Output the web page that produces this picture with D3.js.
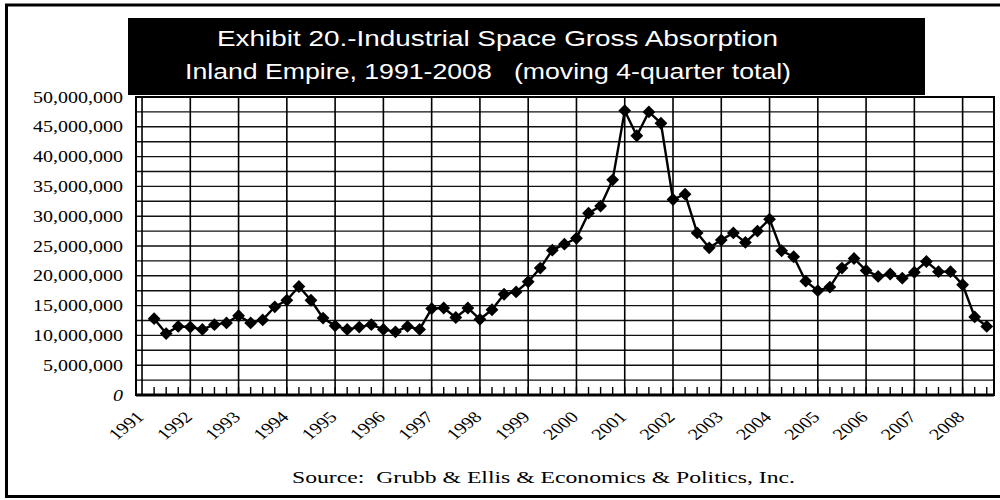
<!DOCTYPE html>
<html>
<head>
<meta charset="utf-8">
<script src="https://cdn.jsdelivr.net/npm/d3@7/dist/d3.min.js"></script>
<style>
  html, body { margin: 0; padding: 0; background: #fff; }
  svg { display: block; }
  .serif { font-family: "Liberation Serif", "Times New Roman", serif; fill: #000; }
  .sans  { font-family: "Liberation Sans", Arial, sans-serif; }
</style>
</head>
<body>
<svg id="chart" width="1000" height="500"></svg>
<script>
// Calendar years labelled on the category axis (four quarters per year)
const years = ["1991","1992","1993","1994","1995","1996","1997","1998","1999",
               "2000","2001","2002","2003","2004","2005","2006","2007","2008"];

// Gross absorption, square feet, moving 4-quarter total (one value per quarter)
const absorption = [
  12.8e6, 10.3e6, 11.5e6, 11.4e6, 11.0e6, 11.8e6, 12.1e6, 13.3e6, 12.1e6, 12.6e6,
  14.8e6, 15.9e6, 18.2e6, 15.9e6, 12.9e6, 11.6e6, 11.0e6, 11.4e6, 11.8e6, 11.0e6,
  10.6e6, 11.5e6, 11.0e6, 14.5e6, 14.6e6, 13.0e6, 14.6e6, 12.7e6, 14.3e6, 16.9e6,
  17.3e6, 19.0e6, 21.3e6, 24.3e6, 25.3e6, 26.3e6, 30.5e6, 31.7e6, 36.1e6, 47.7e6,
  43.5e6, 47.5e6, 45.6e6, 32.8e6, 33.7e6, 27.2e6, 24.7e6, 26.0e6, 27.2e6, 25.6e6,
  27.5e6, 29.5e6, 24.2e6, 23.2e6, 19.1e6, 17.5e6, 18.1e6, 21.3e6, 22.9e6, 20.9e6,
  19.9e6, 20.3e6, 19.6e6, 20.6e6, 22.4e6, 20.7e6, 20.7e6, 18.5e6, 13.1e6, 11.5e6
];

// Value-axis labels and horizontal grid
const yTickValues = d3.range(0, 50000001, 5000000);
const yGridValues = d3.range(0, 50000001, 2500000);

const titleLines = [
  "Exhibit 20.-Industrial Space Gross Absorption",
  "Inland Empire, 1991-2008   (moving 4-quarter total)"
];
const sourceNote = "Source:  Grubb & Ellis & Economics & Politics, Inc.";

// ---- layout ----
const plot = { left: 136, right: 994, top: 97, bottom: 395 };
const stretch = 1.25;               // the lettering is set wide

const svg = d3.select("#chart");

const x = d3.scaleLinear().domain([-1.5, 69.6]).range([plot.left, plot.right]);
const y = d3.scaleLinear().domain([0, 50000000]).range([plot.bottom, plot.top]);

// outer frame: top, left and bottom rules
svg.append("path")
  .attr("d", "M1000,5 H6.5 V496.5 H1000")
  .attr("fill", "none").attr("stroke", "#000").attr("stroke-width", 3);

// ---- plot area ----
const g = svg.append("g");

// horizontal grid
g.selectAll("line.hgrid").data(yGridValues).join("line")
  .attr("class", "hgrid")
  .attr("x1", plot.left).attr("x2", plot.right)
  .attr("y1", d => y(d)).attr("y2", d => y(d))
  .attr("stroke", "#111").attr("stroke-width", 1.4);

// year dividers
g.selectAll("line.vgrid").data(years).join("line")
  .attr("class", "vgrid")
  .attr("x1", (d, k) => x(4 * k - 1)).attr("x2", (d, k) => x(4 * k - 1))
  .attr("y1", plot.top).attr("y2", plot.bottom)
  .attr("stroke", "#000").attr("stroke-width", 1.6);

// quarter tick marks along the base
g.selectAll("line.qtick").data(absorption).join("line")
  .attr("class", "qtick")
  .attr("x1", (d, i) => x(i)).attr("x2", (d, i) => x(i))
  .attr("y1", plot.bottom - 8).attr("y2", plot.bottom)
  .attr("stroke", "#000").attr("stroke-width", 1.4);

// plot border
g.append("rect")
  .attr("x", plot.left).attr("y", plot.top)
  .attr("width", plot.right - plot.left).attr("height", plot.bottom - plot.top)
  .attr("fill", "none").attr("stroke", "#000").attr("stroke-width", 2);
g.append("line")
  .attr("x1", plot.left).attr("x2", plot.right)
  .attr("y1", plot.bottom).attr("y2", plot.bottom)
  .attr("stroke", "#000").attr("stroke-width", 3);

// value-axis labels
const yLab = svg.append("g").attr("transform", `scale(${stretch},1)`);
yLab.selectAll("text").data(yTickValues).join("text")
  .attr("class", "serif")
  .attr("x", 123 / stretch)
  .attr("y", d => y(d))
  .attr("dy", "0.35em")
  .attr("text-anchor", "end")
  .attr("font-size", 16)
  .attr("font-style", d => d === 0 ? "italic" : "normal")
  .text(d => d3.format(",")(d));

// year labels, slanted
svg.selectAll("text.year").data(years).join("text")
  .attr("class", "year serif")
  .attr("text-anchor", "end")
  .attr("font-size", 16)
  .attr("transform", (d, k) =>
    `translate(${x(4 * k - 1) + 3},418) scale(${stretch},1) rotate(-45)`)
  .text(d => d);

// series line and diamond markers
const line = d3.line().x((d, i) => x(i)).y(d => y(d));
svg.append("path").datum(absorption)
  .attr("d", line)
  .attr("fill", "none").attr("stroke", "#000").attr("stroke-width", 2.4)
  .attr("stroke-linejoin", "round");

const diamond = d3.symbol().type(d3.symbolSquare).size(82);
svg.selectAll("path.pt").data(absorption).join("path")
  .attr("class", "pt")
  .attr("d", diamond)
  .attr("transform", (d, i) => `translate(${x(i)},${y(d)}) rotate(45)`)
  .attr("fill", "#000");

// ---- title block ----
svg.append("rect")
  .attr("x", 128).attr("y", 18).attr("width", 797).attr("height", 77)
  .attr("fill", "#000");
const titleSpec = [
  { x: 217, y: 46, len: 561 },
  { x: 185, y: 79, len: 606 }
];
svg.selectAll("text.title").data(titleLines).join("text")
  .attr("class", "title sans")
  .attr("x", (d, i) => titleSpec[i].x)
  .attr("y", (d, i) => titleSpec[i].y)
  .attr("font-size", 22)
  .attr("fill", "#fff")
  .style("white-space", "pre")
  .attr("textLength", (d, i) => titleSpec[i].len)
  .attr("lengthAdjust", "spacingAndGlyphs")
  .text(d => d);

// ---- source note ----
svg.append("text")
  .attr("class", "serif")
  .attr("x", 292).attr("y", 483)
  .attr("font-size", 16)
  .style("white-space", "pre")
  .attr("textLength", 503)
  .attr("lengthAdjust", "spacingAndGlyphs")
  .text(sourceNote);
</script>
</body>
</html>
